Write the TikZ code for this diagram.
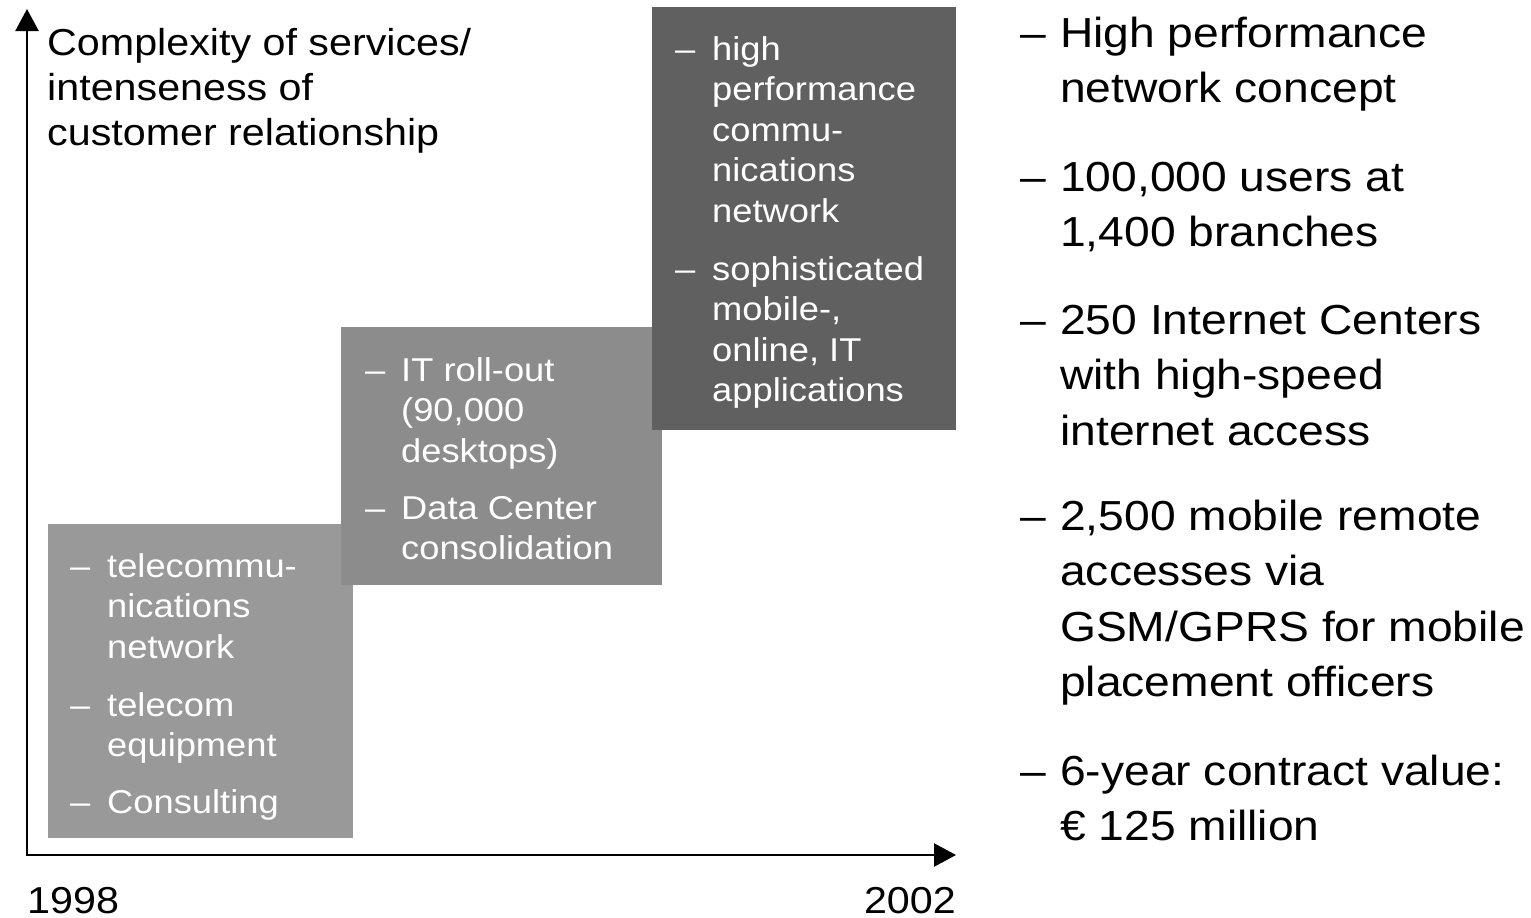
\documentclass[tikz,border=0pt]{standalone}
\usepackage{fontspec}
\setmainfont[FakeStretch=1.1]{Liberation Sans}
\usetikzlibrary{arrows.meta}
\definecolor{boxA}{RGB}{153,153,153}
\definecolor{boxB}{RGB}{140,140,140}
\definecolor{boxC}{RGB}{96,96,96}
\tikzset{
  boxtext/.style={anchor=base west, inner sep=0pt, align=left, text=white, font=\fontsize{33}{40.6}\selectfont},
  boxdash/.style={anchor=base west, inner sep=0pt, text=white, font=\fontsize{33}{40.6}\selectfont},
  sidetext/.style={anchor=base west, inner sep=0pt, align=left, font=\fontsize{42}{55.5}\selectfont},
  sidedash/.style={anchor=base west, inner sep=0pt, font=\fontsize{42}{55.5}\selectfont},
  axislabel/.style={inner sep=0pt, align=left, font=\fontsize{37.5}{45}\selectfont},
  axisline/.style={line width=2.5pt, {Triangle[length=22pt,width=23pt]}-{Triangle[length=22pt,width=23pt]}}
}
\begin{document}
\begin{tikzpicture}[x=1pt,y=-1pt]
\useasboundingbox (0,0) rectangle (1531,918);
% boxes
\fill[boxA] (48,524) rectangle (353,838);
\fill[boxB] (341,327) rectangle (662,585);
\fill[boxC] (652,7) rectangle (956,430);
% axes
\coordinate (origin) at (27,855);
\coordinate (ytip) at (27,9);
\coordinate (xtip) at (956,855);
\draw[axisline] (ytip) -- (origin) -- (xtip);
% multi-line nodes are anchored at the baseline of their last line
\node[axislabel, anchor=base west] (ylabel) at (47,145) {Complexity of services/\\intenseness of\\customer relationship};
\node[axislabel, anchor=base west] (y1998) at (27,913) {1998};
\node[axislabel, anchor=base east] (y2002) at (956,913) {2002};
% box 1
\node[boxdash] (d11) at (70,577) {–};
\node[boxtext] (t11) at (107,658.2) {telecommu-\\nications\\network};
\node[boxdash] (d12) at (70,716) {–};
\node[boxtext] (t12) at (107,756.6) {telecom\\equipment};
\node[boxdash] (d13) at (70,813) {–};
\node[boxtext] (t13) at (107,813) {Consulting};
% box 2
\node[boxdash] (d21) at (365,381) {–};
\node[boxtext] (t21) at (401,462.2) {IT roll-out\\(90,000\\desktops)};
\node[boxdash] (d22) at (365,519) {–};
\node[boxtext] (t22) at (401,559.6) {Data Center\\consolidation};
% box 3
\node[boxdash] (d31) at (675,60) {–};
\node[boxtext] (t31) at (712,222.4) {high\\performance\\commu-\\nications\\network};
\node[boxdash] (d32) at (675,280) {–};
\node[boxtext] (t32) at (712,401.8) {sophisticated\\mobile-,\\online, IT\\applications};
% right list
\node[sidedash] (r1d) at (1020,47) {–};
\node[sidetext] (r1) at (1060,102.5) {High performance\\network concept};
\node[sidedash] (r2d) at (1020,191) {–};
\node[sidetext] (r2) at (1060,246.5) {100,000 users at\\1,400 branches};
\node[sidedash] (r3d) at (1020,334) {–};
\node[sidetext] (r3) at (1060,445) {250 Internet Centers\\with high-speed\\internet access};
\node[sidedash] (r4d) at (1020,530) {–};
\node[sidetext] (r4) at (1060,696.5) {2,500 mobile remote\\accesses via\\GSM/GPRS for mobile\\placement officers};
\node[sidedash] (r5d) at (1020,785) {–};
\node[sidetext] (r5) at (1060,840.5) {6-year contract value:\\€ 125 million};
\end{tikzpicture}
\end{document}
